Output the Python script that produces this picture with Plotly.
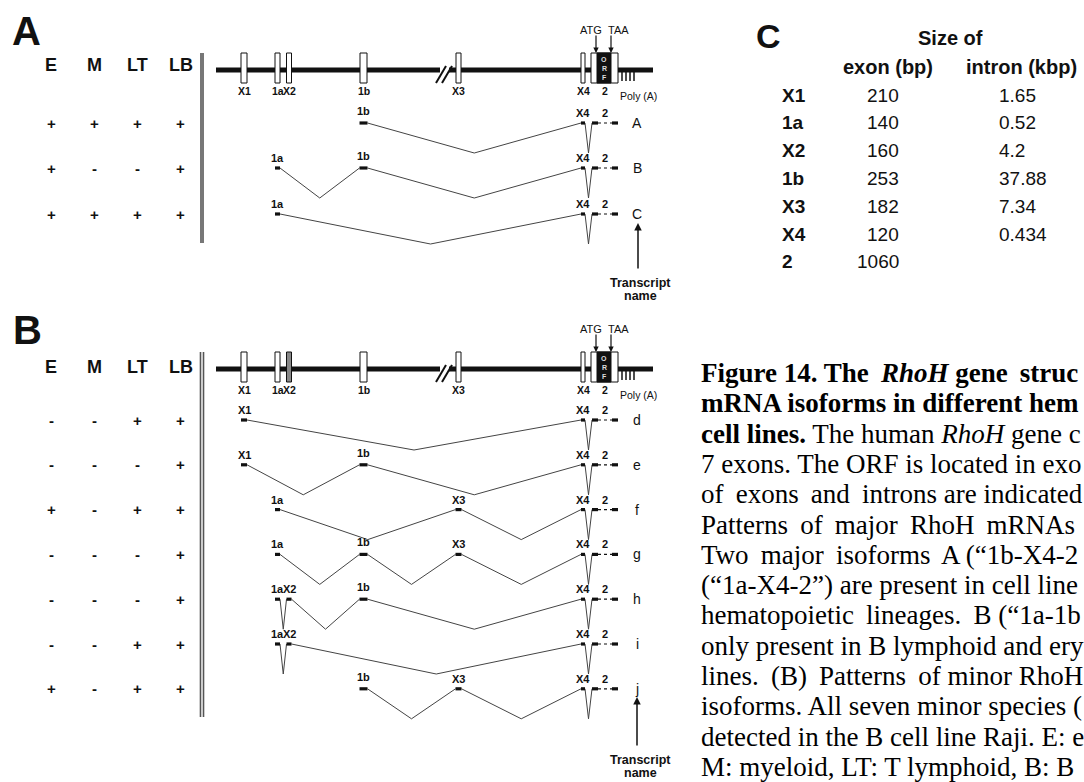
import plotly.graph_objects as go

# ---------------- data ----------------
lineages = ["E", "M", "LT", "LB"]
exon_names = ["X1", "1a", "X2", "1b", "X3", "X4", "2"]
exon_size_bp = ["210", "140", "160", "253", "182", "120", "1060"]
intron_size_kbp = ["1.65", "0.52", "4.2", "37.88", "7.34", "0.434", ""]

major_names = ["A", "B", "C"]
major_exons = [["1b", "X4", "2"], ["1a", "1b", "X4", "2"], ["1a", "X4", "2"]]
major_expr = [["+", "+", "+", "+"], ["+", "-", "-", "+"], ["+", "+", "+", "+"]]

minor_names = ["d", "e", "f", "g", "h", "i", "j"]
minor_exons = [["X1", "X4", "2"], ["X1", "1b", "X4", "2"], ["1a", "X3", "X4", "2"],
               ["1a", "1b", "X3", "X4", "2"], ["1a", "X2", "1b", "X4", "2"],
               ["1a", "X2", "X4", "2"], ["1b", "X3", "X4", "2"]]
minor_expr = [["-", "-", "+", "+"], ["-", "-", "-", "+"], ["+", "-", "+", "+"],
              ["-", "-", "-", "+"], ["-", "-", "-", "+"], ["-", "-", "+", "+"],
              ["+", "-", "+", "+"]]

# caption as visible in the reference (it runs off the right edge there)
T = "\u2009"  # thin space, mimics the justified word spacing
caption_lines = [
    f"<b>Figure 14. The{T} <i>RhoH</i> gene{T} struc</b>",
    "<b>mRNA isoforms in different hem</b>",
    "<b>cell lines.</b> The human <i>RhoH</i> gene c",
    "7 exons. The ORF is located in exo",
    f"of{T} exons{T} and{T} introns are indicated",
    f"Patterns{T} of{T} major{T} RhoH{T} mRNAs",
    f"Two{T} major{T} isoforms{T} A (\u201c1b-X4-2",
    "(\u201c1a-X4-2\u201d) are present in cell line",
    f"hematopoietic{T} lineages.{T} B (\u201c1a-1b",
    "only present in B lymphoid and ery",
    f"lines.{T} (B){T} Patterns{T} of minor RhoH",
    "isoforms. All seven minor species (",
    "detected in the B cell line Raji. E: e",
    "M: myeloid, LT: T lymphoid, B: B",
]

# ---------------- layout constants ----------------
W, H = 1084, 782
SANS = "Liberation Sans, Arial, sans-serif"
NARROW = "Liberation Sans Narrow, Liberation Sans, Arial, sans-serif"
SERIF = "Liberation Serif, Times New Roman, serif"
INK = "#111111"

EXON_X = {"X1": 244, "1a": 277.5, "X2": 289, "1b": 363.5, "X3": 458.5, "X4": 583, "2": 604.5}
EXON_W = {"X1": 6, "1a": 5, "X2": 5, "1b": 7, "X3": 5, "X4": 4}
PIECE_HALF = {"X1": 3, "1a": 2.5, "X2": 2.5, "1b": 4, "X3": 3, "X4": 2}
EX2_LEFT, EX2_RIGHT = 591, 618
ORF_LEFT, ORF_RIGHT = 597, 611
COL_X = [51, 94.5, 137.5, 180.5]
NAME_X = 637
DIP = 30

fig = go.Figure()
shapes = []
ann = []


def text(x, y, s, size, bold=False, family=SANS, color=INK, xanchor="center",
         yanchor="middle"):
    if bold:
        s = f"<b>{s}</b>"
    ann.append(dict(x=x, y=y, xref="x", yref="y", text=s, showarrow=False,
                    font=dict(family=family, size=size, color=color),
                    xanchor=xanchor, yanchor=yanchor))


def line(x0, y0, x1, y1, width=1, color=INK):
    shapes.append(dict(type="line", xref="x", yref="y", x0=x0, y0=y0, x1=x1, y1=y1,
                       line=dict(color=color, width=width)))


def rect(x0, y0, x1, y1, fill="white", lc=INK, lw=1):
    shapes.append(dict(type="rect", xref="x", yref="y", x0=x0, y0=y0, x1=x1, y1=y1,
                       fillcolor=fill, line=dict(color=lc, width=lw)))


def arrow(x, y_tip, y_tail, width=1.2, head=2, size=0.9):
    ann.append(dict(x=x, y=y_tip, ax=x, ay=y_tail, xref="x", yref="y", axref="x",
                    ayref="y", text="", showarrow=True, arrowhead=head,
                    arrowsize=size, arrowwidth=width, arrowcolor=INK))


def gene_structure(gy, x2_fill):
    line(216, gy, 440, gy, 5)
    line(449, gy, 653, gy, 5)
    line(436, gy + 13, 446, gy - 4, 2)
    line(442, gy + 13, 452, gy - 4, 2)
    for e in exon_names[:-1]:
        w = EXON_W[e]
        rect(EXON_X[e] - w / 2, gy - 17, EXON_X[e] + w / 2, gy + 13,
             fill=(x2_fill if e == "X2" else "white"))
    rect(EX2_LEFT, gy - 17, EX2_RIGHT, gy + 13)
    rect(ORF_LEFT, gy - 17, ORF_RIGHT, gy + 13, fill=INK)
    for k, ch in enumerate("ORF"):
        text((ORF_LEFT + ORF_RIGHT) / 2, gy - 11 + 9 * k, ch, 7, bold=True, color="#dddddd")
    # ATG / TAA
    arrow(ORF_LEFT - 1, gy - 17, gy - 36)
    arrow(ORF_RIGHT, gy - 17, gy - 36)
    text(591, gy - 40, "ATG", 11)
    text(618, gy - 40, "TAA", 11)
    # poly(A)
    for px in (622, 626, 630, 634):
        line(px, gy + 1, px, gy + 11, 1.5)
    text(638, gy + 26, "Poly (A)", 10.5, family=NARROW)
    # labels under exons
    for e in exon_names:
        text(EXON_X[e], gy + 21, e, 10.5, bold=True, family=NARROW)


def transcripts(row_ys, names, exons):
    ix, iy, px, py, dx, dy = [], [], [], [], [], []
    for y, nm, ex in zip(row_ys, names, exons):
        spans = []
        for e in ex:
            if e == "2":
                spans.append((EX2_LEFT + 1, EX2_RIGHT))
                px += [EX2_LEFT + 1, ORF_LEFT + 1, None, ORF_RIGHT + 1, EX2_RIGHT, None]
                py += [y, y, None, y, y, None]
                dx += [ORF_LEFT + 1, ORF_RIGHT + 1, None]
                dy += [y, y, None]
                text(EXON_X[e], y - 10, e, 11, bold=True, family=NARROW)
            else:
                h = PIECE_HALF[e]
                spans.append((EXON_X[e] - h, EXON_X[e] + h))
                px += [EXON_X[e] - h, EXON_X[e] + h, None]
                py += [y, y, None]
                text(EXON_X[e], y - (12 if e == "1b" else 10), e, 11, bold=True,
                     family=NARROW)
        for (a0, a1), (b0, b1) in zip(spans[:-1], spans[1:]):
            ix += [a1, (a1 + b0) / 2, b0, None]
            iy += [y, y + DIP, y, None]
        text(NAME_X, y, nm, 14)
    fig.add_trace(go.Scatter(x=ix, y=iy, mode="lines", hoverinfo="skip",
                             line=dict(color="#444444", width=1)))
    fig.add_trace(go.Scatter(x=px, y=py, mode="lines", hoverinfo="skip",
                             line=dict(color=INK, width=3.2)))
    fig.add_trace(go.Scatter(x=dx, y=dy, mode="lines", hoverinfo="skip",
                             line=dict(color=INK, width=1.2, dash="dot")))


def expression(header_y, row_ys, expr):
    for cx, lab in zip(COL_X, lineages):
        text(cx, header_y, lab, 18, bold=True)
    for y, row in zip(row_ys, expr):
        for cx, s in zip(COL_X, row):
            text(cx, y, s, 15, bold=True)


# ---------------- panel A ----------------
text(26, 31, "A", 40, bold=True)
rowsA = [123, 168, 214]
expression(65, rowsA, major_expr)
rect(200, 53, 204, 243, fill="#777777", lc="#777777", lw=0)
gene_structure(70, "white")
transcripts(rowsA, major_names, major_exons)
arrow(NAME_X + 1, 223, 270, width=1.5, size=1)
text(640, 283, "Transcript", 12.5, bold=True)
text(640, 296, "name", 12.5, bold=True)

# ---------------- panel B ----------------
text(27, 330, "B", 40, bold=True)
rowsB = [420 + 44.8 * k for k in range(len(minor_names))]
expression(367, rowsB, minor_expr)
line(200.5, 352, 200.5, 717, 1.6, "#555555")
line(203.5, 352, 203.5, 717, 1.6, "#555555")
gene_structure(369, "#888888")
transcripts(rowsB, minor_names, minor_exons)
arrow(NAME_X, 697, 747, width=1.5, size=1)
text(640, 760, "Transcript", 12.5, bold=True)
text(640, 773, "name", 12.5, bold=True)

# ---------------- panel C (table) ----------------
text(768, 36, "C", 34, bold=True)
text(950, 38, "Size of", 20, bold=True)
text(888, 67, "exon (bp)", 20, bold=True)
text(1021, 67, "intron (kbp)", 20, bold=True)
for k, (e, bp, kb) in enumerate(zip(exon_names, exon_size_bp, intron_size_kbp)):
    y = 95 + 27.8 * k
    text(780, y, e, 19, bold=True, xanchor="left")
    text(901, y, bp, 19, xanchor="right")
    if kb:
        text(997, y, kb, 19, xanchor="left")

# ---------------- caption ----------------
for k, s in enumerate(caption_lines):
    text(699, 373 + 30.3 * k, s, 27, family=SERIF, color="#000000", xanchor="left")

fig.update_layout(
    width=W, height=H, margin=dict(l=0, r=0, t=0, b=0),
    paper_bgcolor="white", plot_bgcolor="white", showlegend=False,
    xaxis=dict(range=[0, W], visible=False, fixedrange=True),
    yaxis=dict(range=[H, 0], visible=False, fixedrange=True),
    shapes=shapes, annotations=ann,
)

fig.write_html("out.html", config={"displayModeBar": False},
               post_script="document.body.style.margin='0';document.body.style.overflow='hidden';")
